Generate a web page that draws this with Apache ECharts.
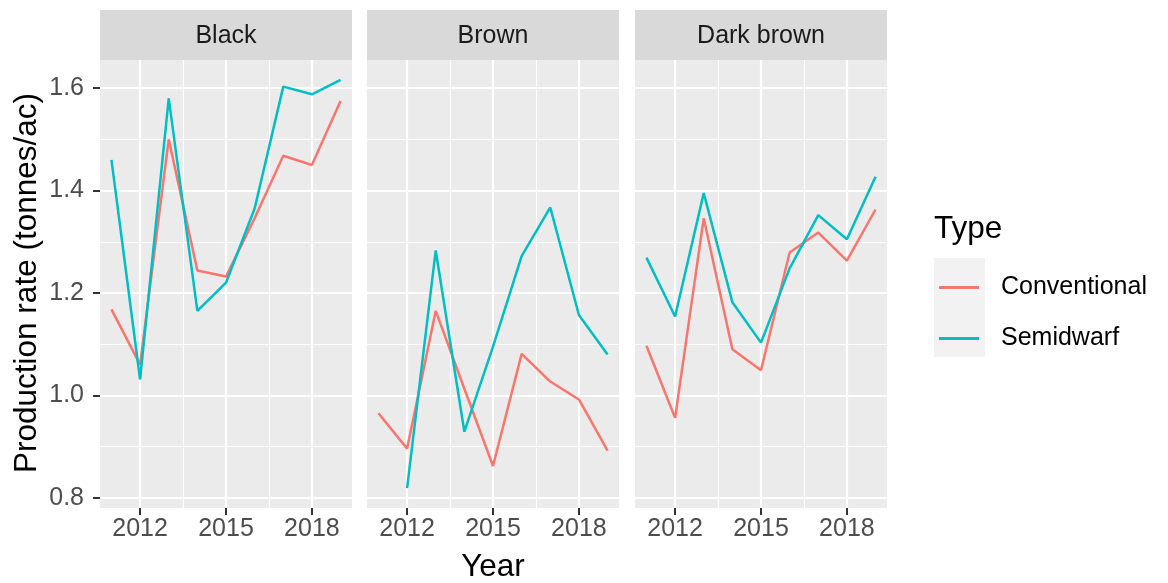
<!DOCTYPE html>
<html>
<head>
<meta charset="utf-8">
<script src="https://cdn.jsdelivr.net/npm/echarts@6/dist/echarts.min.js"></script>
<style>
  html, body { margin: 0; padding: 0; background: #ffffff; }
  #chart { width: 1168px; height: 583px; }
</style>
</head>
<body>
<div id="chart"></div>
<script>
// Canola production rate by soil zone and variety type
const years = [2011, 2012, 2013, 2014, 2015, 2016, 2017, 2018, 2019];
const panels = ['Black', 'Brown', 'Dark brown'];
const types = ['Conventional', 'Semidwarf'];

const blackConventional = [1.168, 1.060, 1.500, 1.244, 1.232, 1.346, 1.468, 1.450, 1.575];
const blackSemidwarf    = [1.460, 1.031, 1.580, 1.165, 1.220, 1.365, 1.603, 1.588, 1.616];
const brownConventional = [0.965, 0.896, 1.165, 1.013, 0.862, 1.081, 1.027, 0.992, 0.892];
const brownSemidwarf    = [null,  0.819, 1.283, 0.929, 1.095, 1.272, 1.367, 1.157, 1.080];
const darkConventional  = [1.097, 0.956, 1.346, 1.090, 1.049, 1.279, 1.318, 1.263, 1.363];
const darkSemidwarf     = [1.269, 1.154, 1.395, 1.182, 1.103, 1.248, 1.352, 1.305, 1.427];

const yTicks = [0.8, 1.0, 1.2, 1.4, 1.6];
const yMinor = [0.9, 1.1, 1.3, 1.5];
const xTicks = [2012, 2015, 2018];
const xMinor = [2013.5, 2016.5];

const panelValues = [
  [blackConventional, blackSemidwarf],
  [brownConventional, brownSemidwarf],
  [darkConventional, darkSemidwarf]
];

const colors = ['#F8766D', '#00BFC4'];
const FONT = 'Liberation Sans, Arial, Helvetica, sans-serif';
const SMALL = 25;
const TITLE = 31.5;

// facet geometry
const gridLefts = [100, 367, 635];
const gridWidth = 252;
const gridTop = 60;
const gridHeight = 448;
const stripTop = 10;

const grids = [], xAxes = [], yAxes = [], series = [], graphics = [];

gridLefts.forEach((left, i) => {
  grids.push({
    left: left, top: gridTop, width: gridWidth, height: gridHeight,
    show: true, backgroundColor: '#EBEBEB', borderWidth: 0
  });
  xAxes.push({
    type: 'value', gridIndex: i, min: 2010.6, max: 2019.4,
    axisLine: { show: false },
    axisTick: { show: true, length: 7, customValues: xTicks, lineStyle: { color: '#333333', width: 2 } },
    axisLabel: {
      show: true, customValues: xTicks, color: '#4D4D4D', fontSize: SMALL, fontFamily: FONT, margin: 9,
      formatter: v => String(v)
    },
    splitLine: { show: false }
  });
  yAxes.push({
    type: 'value', gridIndex: i, min: 0.78, max: 1.655,
    axisLine: { show: false },
    axisTick: { show: i === 0, length: 7, customValues: yTicks, lineStyle: { color: '#333333', width: 2 } },
    axisLabel: {
      show: i === 0, customValues: yTicks, color: '#4D4D4D', fontSize: SMALL, fontFamily: FONT, margin: 16,
      formatter: v => v.toFixed(1)
    },
    splitLine: { show: false }
  });

  // panel grid lines drawn through the axis scales
  const minorLine = { color: '#FFFFFF', width: 1.1, type: 'solid' };
  const majorLine = { color: '#FFFFFF', width: 2.2, type: 'solid' };
  const lines = [];
  yMinor.forEach(v => lines.push({ yAxis: v, lineStyle: minorLine }));
  xMinor.forEach(v => lines.push({ xAxis: v, lineStyle: minorLine }));
  yTicks.forEach(v => lines.push({ yAxis: v, lineStyle: majorLine }));
  xTicks.forEach(v => lines.push({ xAxis: v, lineStyle: majorLine }));
  series.push({
    name: 'grid' + i, type: 'line', xAxisIndex: i, yAxisIndex: i, data: [], z: 1,
    silent: true, legendHoverLink: false,
    markLine: { z: 1, silent: true, symbol: 'none', label: { show: false }, animation: false, data: lines }
  });

  types.forEach((t, k) => {
    series.push({
      name: t, type: 'line', xAxisIndex: i, yAxisIndex: i, z: 3,
      data: years.map((y, j) => [y, panelValues[i][k][j]]),
      showSymbol: false, symbol: 'none', connectNulls: false,
      lineStyle: { color: colors[k], width: 2.5 },
      itemStyle: { color: colors[k] }
    });
  });

  // facet strip
  graphics.push({
    type: 'rect', shape: { x: left, y: stripTop, width: gridWidth, height: gridTop - stripTop },
    style: { fill: '#D9D9D9' }, silent: true
  });
  graphics.push({
    type: 'text', x: left + gridWidth / 2, y: (stripTop + gridTop) / 2 + 1,
    style: { text: panels[i], fill: '#1A1A1A', font: SMALL + 'px ' + FONT, textAlign: 'center', textVerticalAlign: 'middle' },
    silent: true
  });
});

// axis titles
graphics.push({
  type: 'text', x: 493, y: 567,
  style: { text: 'Year', fill: '#000000', font: TITLE + 'px ' + FONT, textAlign: 'center', textVerticalAlign: 'middle' }
});
graphics.push({
  type: 'text', x: 27, y: 283, rotation: Math.PI / 2,
  style: { text: 'Production rate (tonnes/ac)', fill: '#000000', font: TITLE + 'px ' + FONT, textAlign: 'center', textVerticalAlign: 'middle' }
});
// legend title and key background
graphics.push({
  type: 'text', x: 934, y: 229,
  style: { text: 'Type', fill: '#000000', font: TITLE + 'px ' + FONT, textAlign: 'left', textVerticalAlign: 'middle' }
});
graphics.push({
  type: 'rect', shape: { x: 934, y: 258, width: 51, height: 99 },
  style: { fill: '#F2F2F2' }, silent: true
});

const chart = echarts.init(document.getElementById('chart'), null, { renderer: 'canvas' });
chart.setOption({
  animation: false,
  backgroundColor: '#FFFFFF',
  grid: grids,
  xAxis: xAxes,
  yAxis: yAxes,
  legend: {
    data: types.map(t => ({ name: t, icon: 'rect' })),
    orient: 'vertical', left: 934, top: 270,
    itemWidth: 40, itemHeight: 3, itemGap: 26,
    textStyle: { fontSize: SMALL, fontFamily: FONT, color: '#000000', lineHeight: 24, padding: [0, 0, 0, 17] },
    selectedMode: false
  },
  graphic: graphics,
  series: series
});
</script>
</body>
</html>
